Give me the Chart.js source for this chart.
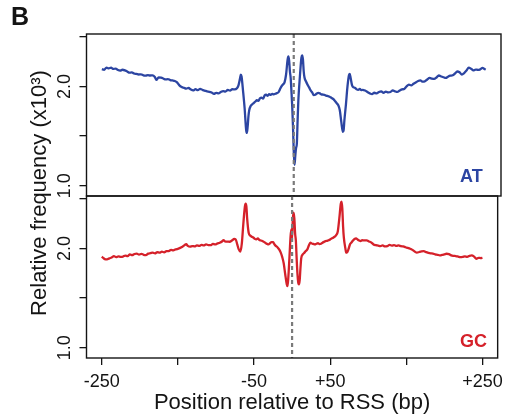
<!DOCTYPE html>
<html><head><meta charset="utf-8">
<script src="https://cdn.jsdelivr.net/npm/chart.js@4.4.1/dist/chart.umd.min.js"></script>
<style>
html,body{margin:0;padding:0;background:#fff;}
#wrap{position:relative;width:509px;height:419px;}
canvas{position:absolute;left:0;top:0;}
</style></head><body>
<div id="wrap"><canvas id="c1" width="509" height="419"></canvas><canvas id="c2" width="509" height="419"></canvas></div>
<script>
// ---- data ----
const atPos = [-250,-247,-244,-241,-238,-235,-232,-229,-226,-223,-220,-217,-214,-211,-208,-205,-202,-199,-196,-193,-190,-187,-184,-181,-179,-176,-173,-170,-167,-164,-161,-158,-155,-152,-149,-146,-143,-140,-137,-134,-131,-128,-125,-122,-119,-116,-113,-110,-107,-104,-101,-98,-95,-92,-89,-86,-83,-80,-77,-74,-72,-70,-69,-68,-66,-64,-62,-61,-60,-59,-58,-56,-54,-52,-50,-48,-46,-44,-42,-40,-38,-36,-34,-32,-30,-28,-26,-24,-22,-20,-18,-16,-14,-12,-10,-8,-7,-6,-5,-4,-3,-2,-1,0,1,2,3,4,5,6,8,10,11,12,13,14,16,18,20,22,24,26,28,30,32,34,36,38,40,42,44,46,48,50,52,54,56,58,60,62,64,65,66,68,70,72,73,74,76,78,80,82,84,86,88,90,93,96,99,102,105,108,111,114,117,120,123,126,129,132,135,138,141,144,147,150,153,156,159,162,165,168,171,174,177,180,183,186,189,192,195,198,201,204,207,210,213,216,219,222,225,228,231,234,237,240,243,246,248,250];
const atVal = [2.175,2.168,2.190,2.182,2.188,2.176,2.180,2.165,2.160,2.168,2.162,2.150,2.138,2.142,2.130,2.126,2.120,2.122,2.112,2.108,2.114,2.110,2.112,2.095,2.066,2.092,2.088,2.080,2.070,2.074,2.064,2.060,2.055,2.040,2.010,1.994,1.985,1.978,1.984,1.968,1.960,1.972,1.962,1.976,1.965,1.958,1.950,1.946,1.938,1.926,1.934,1.930,1.944,1.952,1.948,1.964,1.958,1.972,1.970,1.982,2.010,2.080,2.118,2.100,1.950,1.780,1.560,1.531,1.600,1.700,1.760,1.805,1.820,1.835,1.848,1.862,1.855,1.880,1.888,1.876,1.908,1.916,1.905,1.922,1.915,1.924,1.920,1.926,1.932,1.940,1.970,2.000,2.020,2.040,2.120,2.270,2.302,2.260,2.150,2.085,1.950,1.800,1.600,1.350,1.211,1.300,1.380,1.420,1.650,1.860,2.100,2.290,2.312,2.270,2.150,2.090,2.050,2.017,1.990,1.960,1.940,1.912,1.915,1.928,1.935,1.930,1.920,1.918,1.915,1.908,1.904,1.899,1.890,1.880,1.870,1.850,1.830,1.810,1.760,1.640,1.541,1.560,1.660,1.820,2.000,2.115,2.125,2.090,2.010,1.990,1.985,1.970,1.966,1.975,1.962,1.966,1.958,1.944,1.930,1.922,1.936,1.930,1.944,1.950,1.936,1.948,1.940,1.944,1.960,1.950,1.944,1.958,1.970,1.975,2.000,2.017,2.010,2.026,2.040,2.055,2.060,2.048,2.052,2.070,2.085,2.078,2.075,2.090,2.110,2.100,2.092,2.085,2.098,2.108,2.112,2.130,2.150,2.142,2.120,2.135,2.160,2.190,2.178,2.162,2.170,2.166,2.172,2.186,2.178,2.168];
const gcPos = [-250,-248,-246,-243,-240,-237,-234,-231,-228,-225,-222,-219,-216,-213,-210,-207,-204,-201,-198,-195,-192,-189,-186,-183,-180,-177,-174,-171,-168,-165,-162,-159,-156,-153,-150,-147,-144,-141,-139,-137,-134,-131,-128,-125,-122,-119,-116,-113,-110,-107,-104,-101,-98,-95,-92,-90,-88,-85,-82,-79,-76,-74,-72,-70,-68,-66,-64,-62,-61,-60,-59,-57,-55,-53,-51,-49,-47,-45,-43,-41,-39,-37,-35,-33,-31,-29,-27,-25,-23,-21,-19,-17,-15,-13,-11,-9,-7,-6,-5,-4,-3,-2,-1,0,1,2,3,4,5,6,7,8,9,10,11,12,14,16,18,20,22,24,26,28,30,32,34,36,38,40,42,44,46,48,50,52,54,56,58,60,62,64,65,66,67,68,70,71,72,74,76,78,80,82,84,86,88,90,92,95,98,101,104,107,110,113,116,119,122,125,128,131,134,137,140,143,146,149,152,155,158,161,164,167,170,173,176,179,182,185,188,191,194,197,200,203,206,209,212,215,218,221,224,227,230,233,236,239,242,245,248,250];
const gcVal = [1.916,1.905,1.892,1.889,1.900,1.908,1.922,1.912,1.920,1.915,1.918,1.928,1.922,1.940,1.932,1.944,1.947,1.938,1.945,1.936,1.933,1.948,1.952,1.957,1.950,1.962,1.958,1.967,1.960,1.972,1.973,1.985,1.980,1.990,1.996,2.005,2.017,2.035,2.042,2.025,2.017,2.024,2.020,2.030,2.026,2.035,2.030,2.040,2.034,2.033,2.045,2.040,2.050,2.057,2.070,2.084,2.070,2.068,2.067,2.080,2.095,2.090,2.040,1.990,1.967,2.050,2.250,2.420,2.450,2.420,2.300,2.158,2.130,2.118,2.110,2.096,2.091,2.100,2.085,2.080,2.074,2.066,2.055,2.046,2.040,2.052,2.064,2.063,2.040,2.023,2.010,1.990,1.960,1.915,1.850,1.740,1.640,1.620,1.700,1.830,1.980,2.120,2.191,2.100,2.300,2.360,2.300,2.150,2.074,1.900,1.750,1.660,1.637,1.680,1.800,1.900,1.940,1.955,1.973,1.990,2.030,2.057,2.050,2.045,2.040,2.047,2.052,2.044,2.047,2.058,2.066,2.074,2.076,2.082,2.090,2.101,2.108,2.118,2.135,2.170,2.300,2.450,2.470,2.400,2.220,2.108,2.000,1.960,1.957,1.990,2.040,2.060,2.080,2.095,2.101,2.090,2.080,2.074,2.082,2.080,2.081,2.070,2.060,2.040,2.032,2.028,2.023,2.030,2.020,2.023,2.035,2.028,2.033,2.025,2.030,2.022,2.020,2.012,2.005,1.997,1.985,1.968,1.957,1.964,1.970,1.973,1.962,1.955,1.950,1.948,1.940,1.936,1.930,1.934,1.940,1.946,1.943,1.930,1.925,1.923,1.918,1.912,1.914,1.920,1.915,1.925,1.930,1.918,1.896,1.905,1.902,1.906];
const xTicks = [-250,-150,-50,50,150,250];
const xTickLabels = ['-250','','-50','+50','','+250'];
const yTicks = [1.0,1.5,2.0,2.5];
const yTickLabels = ['1.0','','2.0',''];
const panelNames = ['AT','GC'];
const xTitle = 'Position relative to RSS (bp)';
const yTitle = 'Relative frequency (x10\u00B3)';

// ---- styles ----
const FONT = "'Liberation Sans', Arial, Helvetica, sans-serif";
const BLUE = '#2c45a2';
const RED = '#d5212a';
const INK = '#141414';

function panelPlugin(cfg){
  return {
    id:'panel_'+cfg.key,
    afterDatasetsDraw(chart){
      const ctx = chart.ctx, a = chart.chartArea, sx = chart.scales.x, sy = chart.scales.y;
      // dashed reference line at position 0
      const x0 = sx.getPixelForValue(0);
      ctx.save();
      ctx.strokeStyle = '#7a7a7a'; ctx.lineWidth = 2.2; ctx.setLineDash([4,3]);
      ctx.beginPath(); ctx.moveTo(x0, a.top); ctx.lineTo(x0, a.bottom); ctx.stroke();
      ctx.restore();
      // box
      ctx.save();
      ctx.strokeStyle = INK; ctx.lineWidth = 1.4;
      ctx.strokeRect(a.left, a.top, a.right - a.left, a.bottom - a.top);
      ctx.restore();
      // rotated y tick labels
      ctx.save();
      ctx.fillStyle = INK; ctx.font = '18px ' + FONT;
      ctx.textAlign = 'center'; ctx.textBaseline = 'middle';
      yTicks.forEach((v,i)=>{
        if(!yTickLabels[i]) return;
        const y = sy.getPixelForValue(v);
        ctx.save(); ctx.translate(65, y); ctx.rotate(-Math.PI/2);
        ctx.fillText(yTickLabels[i], 0, 0); ctx.restore();
      });
      ctx.restore();
      // panel name
      ctx.save();
      ctx.fillStyle = cfg.color; ctx.font = 'bold 18px ' + FONT;
      ctx.textAlign = 'left'; ctx.textBaseline = 'alphabetic';
      ctx.fillText(cfg.name, 460, a.bottom - cfg.nameOffset);
      ctx.restore();
      if(cfg.extra) cfg.extra(chart);
    }
  };
}

function makeChart(id, cfg){
  return new Chart(document.getElementById(id), {
    type:'line',
    data:{datasets:[{
      data: cfg.pos.map((p,i)=>({x:p, y:cfg.val[i]})),
      borderColor: cfg.color, borderWidth: 2.3, pointRadius: 0,
      cubicInterpolationMode: 'monotone', fill: false
    }]},
    options:{
      responsive:false, animation:false, events:[],
      layout:{padding:cfg.padding},
      plugins:{legend:{display:false}, tooltip:{enabled:false}},
      scales:{
        x:{
          type:'linear', min:-270, max:270, display:cfg.showX,
          afterBuildTicks(s){ s.ticks = xTicks.map(v=>({value:v})); },
          afterFit(s){ s.height = cfg.xHeight; },
          grid:{drawOnChartArea:false, drawTicks:true, tickLength:7, color:INK, lineWidth:1.3},
          border:{display:false},
          ticks:{autoSkip:false, maxRotation:0, minRotation:0, padding:6, color:INK,
                 font:{family:FONT, size:18}, callback:(v,i)=>xTickLabels[i]},
          title:{display:true, text:xTitle, color:INK, font:{family:FONT, size:22}, padding:{top:0,bottom:0}}
        },
        y:{
          type:'linear', min:0.896, max:2.528,
          afterBuildTicks(s){ s.ticks = yTicks.map(v=>({value:v})); },
          afterFit(s){ s.width = 86.5; },
          grid:{drawOnChartArea:false, drawTicks:true, tickLength:7, color:INK, lineWidth:1.3},
          border:{display:false},
          ticks:{display:false}
        }
      }
    },
    plugins:[panelPlugin(cfg)]
  });
}

makeChart('c1', {key:'at', pos:atPos, val:atVal, color:BLUE, name:panelNames[0], nameOffset:14,
  padding:{top:34, right:8, bottom:223, left:0}, showX:false, xHeight:0,
  extra(chart){
    const ctx = chart.ctx;
    ctx.save(); ctx.fillStyle = INK; ctx.font = 'bold 25px ' + FONT;
    ctx.textAlign='left'; ctx.textBaseline='alphabetic';
    ctx.fillText('B', 11, 25); ctx.restore();
  }});
makeChart('c2', {key:'gc', pos:gcPos, val:gcVal, color:RED, name:panelNames[1], nameOffset:11,
  padding:{top:196, right:8, bottom:3, left:0}, showX:true, xHeight:58,
  extra(chart){
    const ctx = chart.ctx;
    ctx.save(); ctx.fillStyle = INK; ctx.font = '22px ' + FONT;
    ctx.textAlign='center'; ctx.textBaseline='middle';
    ctx.translate(40, 193); ctx.rotate(-Math.PI/2);
    ctx.fillText(yTitle, 0, 0); ctx.restore();
  }});
</script>
</body></html>
